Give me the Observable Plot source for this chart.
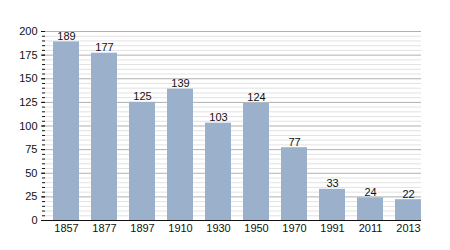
<!DOCTYPE html>
<html>
<head>
<meta charset="utf-8">
<script src="https://cdn.jsdelivr.net/npm/d3@7"></script>
<script src="https://cdn.jsdelivr.net/npm/@observablehq/plot@0.6"></script>
<style>
  html, body { margin: 0; padding: 0; background: #fff; }
  svg { display: block; }
</style>
</head>
<body>
<div id="chart"></div>
<script>
const years = ["1857", "1877", "1897", "1910", "1930", "1950", "1970", "1991", "2011", "2013"];
const values = [189, 177, 125, 139, 103, 124, 77, 33, 24, 22];
const majorTicks = [0, 25, 50, 75, 100, 125, 150, 175, 200];
const minorTicks = d3.range(0, 201, 5);

const data = years.map((y, i) => ({year: y, value: values[i]}));

const chart = Plot.plot({
  width: 450,
  height: 250,
  marginLeft: 45,
  marginRight: 29,
  marginTop: 31,
  marginBottom: 30,
  style: {fontFamily: "'Liberation Sans', Arial, sans-serif", fontSize: "11px", color: "#222", background: "#fff"},
  x: {domain: years, paddingInner: 0.32, paddingOuter: 0.095, align: 1, label: null},
  y: {domain: [0, 200], label: null},
  marks: [
    Plot.ruleY(minorTicks.filter(d => d % 25 !== 0), {stroke: "#e2e2e2", strokeWidth: 1}),
    Plot.ruleY(majorTicks, {stroke: "#b0b0b0", strokeWidth: 1}),
    Plot.barY(data, {x: "year", y: "value", fill: "#9ab0cb"}),
    Plot.text(data, {x: "year", y: "value", text: d => String(d.value), lineAnchor: "bottom", dy: -2, fill: "#111", fontSize: 11}),
    Plot.axisY(minorTicks, {tickSize: 3, text: null, stroke: "#111"}),
    Plot.axisY(majorTicks, {tickSize: 4, tickPadding: 4, fill: "#111", stroke: "#111", fontSize: 11}),
    Plot.axisX({tickSize: 0, tickPadding: 4, fill: "#111", fontSize: 11}),
    Plot.ruleX([0], {frameAnchor: "left", stroke: "#111"}),
    Plot.ruleY([0], {stroke: "#111", strokeWidth: 1.2})
  ]
});
document.getElementById("chart").appendChild(chart);
</script>
</body>
</html>
